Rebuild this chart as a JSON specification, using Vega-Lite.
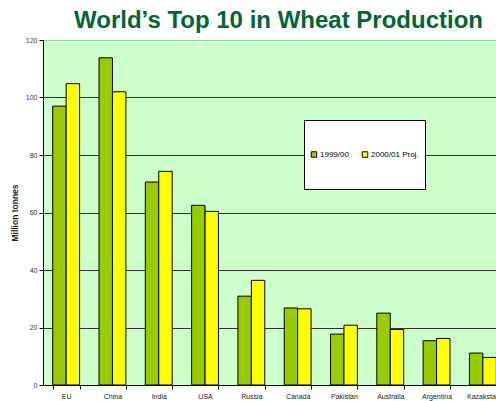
{
  "$schema": "https://vega.github.io/schema/vega-lite/v6.json",
  "width": 463,
  "height": 345,
  "autosize": {"type": "none"},
  "padding": {"left": 43, "top": 40, "right": 0, "bottom": 16},
  "background": "white",
  "title": {
    "text": "World’s Top 10 in Wheat Production",
    "font": "Liberation Sans",
    "fontSize": 24,
    "fontWeight": "bold",
    "color": "#006633",
    "anchor": "middle",
    "frame": "group",
    "baseline": "alphabetic",
    "offset": 10,
    "dx": 4,
    "dy": 26
  },
  "config": {
    "view": {"fill": "#ccffcc", "stroke": null},
    "font": "Liberation Sans"
  },
  "data": {
    "values": [
      {"country": "EU", "series": "1999/00", "value": 97},
      {"country": "EU", "series": "2000/01 Proj.", "value": 104.8},
      {"country": "China", "series": "1999/00", "value": 113.8},
      {"country": "China", "series": "2000/01 Proj.", "value": 102},
      {"country": "India", "series": "1999/00", "value": 70.6},
      {"country": "India", "series": "2000/01 Proj.", "value": 74.3},
      {"country": "USA", "series": "1999/00", "value": 62.5},
      {"country": "USA", "series": "2000/01 Proj.", "value": 60.4},
      {"country": "Russia", "series": "1999/00", "value": 30.9},
      {"country": "Russia", "series": "2000/01 Proj.", "value": 36.4},
      {"country": "Canada", "series": "1999/00", "value": 26.8},
      {"country": "Canada", "series": "2000/01 Proj.", "value": 26.5},
      {"country": "Pakistan", "series": "1999/00", "value": 17.7},
      {"country": "Pakistan", "series": "2000/01 Proj.", "value": 20.8},
      {"country": "Australia", "series": "1999/00", "value": 25},
      {"country": "Australia", "series": "2000/01 Proj.", "value": 19.3},
      {"country": "Argentina", "series": "1999/00", "value": 15.4},
      {"country": "Argentina", "series": "2000/01 Proj.", "value": 16.2},
      {"country": "Kazakstan", "series": "1999/00", "value": 11.1},
      {"country": "Kazakstan", "series": "2000/01 Proj.", "value": 9.6}
    ]
  },
  "mark": {"type": "bar", "stroke": "black", "strokeWidth": 1},
  "encoding": {
    "x": {
      "field": "country",
      "type": "nominal",
      "sort": ["EU", "China", "India", "USA", "Russia", "Canada", "Pakistan", "Australia", "Argentina", "Kazakstan"],
      "scale": {"paddingInner": 0.42, "paddingOuter": 0.21},
      "axis": {
        "title": null,
        "labelAngle": 0,
        "tickBand": "extent",
        "labelFontSize": 7,
        "labelColor": "#222",
        "domainColor": "black",
        "tickColor": "black",
        "tickSize": 4,
        "labelPadding": 3,
        "grid": false
      }
    },
    "xOffset": {"field": "series", "sort": ["1999/00", "2000/01 Proj."]},
    "y": {
      "field": "value",
      "type": "quantitative",
      "scale": {"domain": [0, 120]},
      "axis": {
        "title": "Million tonnes",
        "titleFontSize": 8.5,
        "titleFontWeight": "bold",
        "titleColor": "#222",
        "titlePadding": 6,
        "values": [0, 20, 40, 60, 80, 100, 120],
        "grid": true,
        "gridColor": {"condition": {"test": "datum.value >= 120", "value": "#99cc99"}, "value": "#333"},
        "gridOpacity": 1,
        "labelFontSize": 7,
        "labelColor": "#333",
        "labelPadding": 2,
        "domainColor": "black",
        "tickColor": "black",
        "tickSize": 4
      }
    },
    "color": {
      "field": "series",
      "type": "nominal",
      "scale": {"domain": ["1999/00", "2000/01 Proj."], "range": ["#99cc00", "#ffff00"]},
      "legend": {
        "title": null,
        "clipHeight": 57,
        "orient": "none",
        "legendX": 261,
        "legendY": 80,
        "direction": "horizontal",
        "fillColor": "white",
        "strokeColor": "black",
        "padding": 6,
        "symbolType": "square",
        "symbolSize": 30,
        "symbolStrokeColor": "black",
        "symbolStrokeWidth": 1,
        "symbolOpacity": 1,
        "labelFontSize": 8,
        "labelColor": "black",
        "labelOffset": 2,
        "columnPadding": 12
      }
    }
  }
}
